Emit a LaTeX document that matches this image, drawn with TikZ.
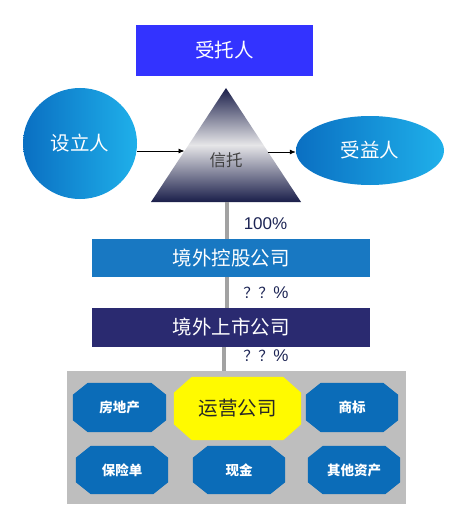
\documentclass[tikz,border=0pt]{standalone}
\usepackage{fontspec}
\setmainfont{Noto Sans CJK SC}
\newfontfamily\latinfont{Liberation Sans}
\usetikzlibrary{arrows.meta,shapes.geometric}
\definecolor{trusteeblue}{HTML}{3333FF}
\definecolor{balldark}{HTML}{0A6FC2}
\definecolor{balllight}{HTML}{1FB0EA}
\definecolor{trinavy}{HTML}{1A1E4A}
\definecolor{trilight}{HTML}{E6E6E8}
\definecolor{holdblue}{HTML}{1878C2}
\definecolor{listnavy}{HTML}{2A2A70}
\definecolor{areagray}{HTML}{BEBEBE}
\definecolor{octblue}{HTML}{0B6CB8}
\definecolor{octyellow}{HTML}{FFFA00}
\definecolor{connGray}{HTML}{A2A2A2}
\definecolor{pctnavy}{HTML}{1C2454}
\pgfdeclarelayer{back}
\pgfdeclarelayer{mid}
\pgfsetlayers{back,mid,main}
\newcommand\octofill[4]{%
  \fill[#4] ([xshift=#2]#1.north west) -- ([xshift=-#2]#1.north east)
    -- ([yshift=-#3]#1.north east) -- ([yshift=#3]#1.south east)
    -- ([xshift=-#2]#1.south east) -- ([xshift=#2]#1.south west)
    -- ([yshift=#3]#1.south west) -- ([yshift=-#3]#1.north west) -- cycle;}
\tikzset{
  bigtext/.style={font=\fontsize{19.5}{22}\selectfont},
  whitebox/.style={bigtext, text=white, inner sep=0pt},
  assetbox/.style={inner sep=0pt, text=white, font=\fontsize{13.5}{16}\selectfont\bfseries,
     minimum width=92pt, minimum height=49pt},
  conn/.style={draw=connGray, line width=4pt},
  arr/.style={draw=black, line width=0.8pt, -{Latex[length=6pt,width=5pt]}},
  pct/.style={text=pctnavy, inner sep=0pt}
}
\begin{document}
\begin{tikzpicture}[x=1pt,y=-1pt]
\useasboundingbox (0,0) rectangle (454,532);
% trustee
\node[whitebox, fill=trusteeblue, minimum width=177pt, minimum height=51pt] (trustee) at (224.5,50.5) {受托人};
% settlor
\node[whitebox, ellipse, left color=balldark, right color=balllight, minimum width=114pt, minimum height=111pt] (settlor) at (80,143.5) {设立人};
% beneficiary
\node[whitebox, ellipse, left color=balldark, right color=balllight, minimum width=148pt, minimum height=69pt] (benef) at (370,150.5) {受益人};
% trust triangle
\coordinate (apex) at (226,88);
\coordinate (bl) at (151,202);
\coordinate (br) at (301,202);
\shade[top color=trinavy, bottom color=trinavy, middle color=trilight] (apex) -- (br) -- (bl) -- cycle;
\node[text=black!75, inner sep=0pt, font=\fontsize{16.5}{19}\selectfont] (trust) at (226,160) {信托};
\coordinate (tl) at (184.5,151);
\coordinate (tr) at (267.5,152);
\coordinate (tb) at (227,202);
\draw[arr] (settlor.east |- tl) -- (tl);
\draw[arr] (tr) -- (benef.west |- tr);
% holding and listed
\node[whitebox, fill=holdblue, minimum width=278pt, minimum height=38pt] (hold) at (231,258) {境外控股公司};
\node[whitebox, fill=listnavy, minimum width=278pt, minimum height=39pt] (listed) at (231,327.5) {境外上市公司};
% asset area
\begin{pgfonlayer}{back}
\node[fill=areagray, minimum width=339pt, minimum height=133pt, inner sep=0pt] (assets) at (236.5,437.5) {};
\end{pgfonlayer}
\coordinate (c3) at (224,0);
\draw[conn] (tb) -- (hold.north -| tb);
\draw[conn] (hold.south -| tb) -- (listed.north -| tb);
\draw[conn] (listed.south -| c3) -- (assets.north -| c3);
% percentages
\node[pct, font=\latinfont\fontsize{17}{20}\selectfont] (p1) at (265.5,224) {100\%};
\node[pct, font=\fontsize{15}{18}\selectfont] (p2) at (266,293) {？？{\latinfont\fontsize{17}{20}\selectfont\%}};
\node[pct, font=\fontsize{15}{18}\selectfont] (p3) at (266,356) {？？{\latinfont\fontsize{17}{20}\selectfont\%}};
% asset octagons
\node[assetbox, minimum width=93pt] (estate) at (119.5,407.5) {房地产};
\node[inner sep=0pt, bigtext, text=black!85, minimum width=127pt, minimum height=63pt] (opco) at (237.5,408.5) {运营公司};
\node[assetbox] (brand) at (352,407.5) {商标};
\node[assetbox, minimum height=48pt] (policy) at (122,470) {保险单};
\node[assetbox, minimum height=48pt] (cash) at (239,470) {现金};
\node[assetbox, minimum height=48pt] (other) at (354,470) {其他资产};
\begin{pgfonlayer}{mid}
\octofill{estate}{15pt}{12pt}{octblue}
\octofill{opco}{18pt}{16pt}{octyellow}
\octofill{brand}{15pt}{12pt}{octblue}
\octofill{policy}{15pt}{12pt}{octblue}
\octofill{cash}{15pt}{12pt}{octblue}
\octofill{other}{15pt}{12pt}{octblue}
\end{pgfonlayer}
\end{tikzpicture}
\end{document}
